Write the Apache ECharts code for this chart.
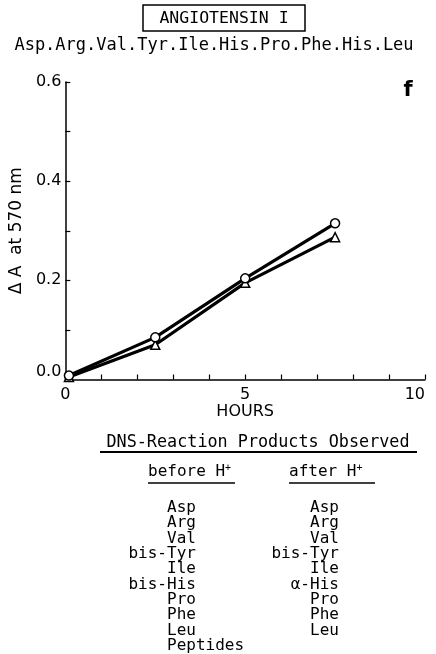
<!DOCTYPE html>
<html>
<head>
<meta charset="utf-8">
<script src="https://cdn.jsdelivr.net/npm/echarts@6/dist/echarts.min.js"></script>
<style>html,body{margin:0;padding:0;background:#fff;}#c{width:436px;height:654px;}</style>
</head>
<body>
<div id="c"></div>
<script>
// ---- data ----
const titleText = 'ANGIOTENSIN I';
const sequenceText = 'Asp.Arg.Val.Tyr.Ile.His.Pro.Phe.His.Leu';
const panelLetter = 'f';
const xName = 'HOURS';
const yName = 'Δ A  at 570 nm';
const hours = [0.1, 2.5, 5, 7.5];
const circleValues = [0.008, 0.085, 0.204, 0.315];
const triangleValues = [0.005, 0.070, 0.195, 0.287];
const xTicks = [0, 5, 10];
const yTicks = [0.0, 0.2, 0.4, 0.6];
const tableTitle = 'DNS-Reaction Products Observed';
const beforeHeader = 'before H';
const afterHeader = 'after H';
const beforeList = ['Asp', 'Arg', 'Val', 'bis-Tyr', 'Ile', 'bis-His', 'Pro', 'Phe', 'Leu', 'Peptides'];
const afterList = ['Asp', 'Arg', 'Val', 'bis-Tyr', 'Ile', 'α-His', 'Pro', 'Phe', 'Leu'];

// ---- layout ----
const mono = '"DejaVu Sans Mono", "Liberation Mono", monospace';
const sans = '"DejaVu Sans", "Liberation Sans", sans-serif';
const listFont = 16;
const charW = listFont * 0.602;
const rowH = 15.3;

function listTexts(list, baseX, topY) {
  return list.map((s, i) => {
    const dash = s.indexOf('-');
    const prefix = dash >= 0 ? dash + 1 : 0;
    return {
      type: 'text',
      x: baseX - prefix * charW,
      y: topY + i * rowH,
      style: { text: s, font: listFont + 'px ' + mono, fill: '#000', align: 'left', verticalAlign: 'middle' }
    };
  });
}

const chart = echarts.init(document.getElementById('c'), null, { renderer: 'canvas' });

const graphics = [
  { type: 'rect', shape: { x: 143, y: 5, width: 162, height: 26 }, style: { fill: 'none', stroke: '#000', lineWidth: 1.5 } },
  { type: 'text', x: 224, y: 19, style: { text: titleText, font: '16.5px ' + mono, fill: '#000', align: 'center', verticalAlign: 'middle' } },
  { type: 'text', x: 214, y: 46, style: { text: sequenceText, font: '17px ' + mono, fill: '#000', align: 'center', verticalAlign: 'middle' } },
  { type: 'text', x: 408, y: 91, style: { text: panelLetter, font: 'bold 21px ' + sans, fill: '#000', align: 'center', verticalAlign: 'middle' } },
  { type: 'text', x: 258, y: 443, style: { text: tableTitle, font: '16.8px ' + mono, fill: '#000', align: 'center', verticalAlign: 'middle' } },
  { type: 'line', shape: { x1: 100, y1: 452, x2: 417, y2: 452 }, style: { stroke: '#000', lineWidth: 1.8 } },
  { type: 'text', x: 148, y: 472, style: { text: beforeHeader + '{s|+}', font: listFont + 'px ' + mono, fill: '#000', align: 'left', verticalAlign: 'middle',
      rich: { s: { fontSize: 10, fontFamily: 'DejaVu Sans Mono', verticalAlign: 'top', padding: [0, 0, 8, 0] } } } },
  { type: 'line', shape: { x1: 148, y1: 483, x2: 235, y2: 483 }, style: { stroke: '#000', lineWidth: 1.5 } },
  { type: 'text', x: 289, y: 472, style: { text: afterHeader + '{s|+}', font: listFont + 'px ' + mono, fill: '#000', align: 'left', verticalAlign: 'middle',
      rich: { s: { fontSize: 10, fontFamily: 'DejaVu Sans Mono', verticalAlign: 'top', padding: [0, 0, 8, 0] } } } },
  { type: 'line', shape: { x1: 289, y1: 483, x2: 375, y2: 483 }, style: { stroke: '#000', lineWidth: 1.5 } }
].concat(listTexts(beforeList, 167, 508), listTexts(afterList, 310, 508));

const option = {
  backgroundColor: '#fff',
  animation: false,
  grid: { left: 65, right: 11, top: 82, bottom: 274.5, containLabel: false },
  xAxis: {
    type: 'value', min: xTicks[0], max: xTicks[xTicks.length - 1], interval: 5,
    name: xName, nameLocation: 'middle', nameGap: 24,
    nameTextStyle: { fontFamily: sans, fontSize: 16, color: '#000' },
    axisLine: { lineStyle: { color: '#000', width: 1.5 } },
    axisTick: { inside: true, length: 5, lineStyle: { color: '#000', width: 1.2 } },
    minorTick: { show: true, splitNumber: 5, length: 5, lineStyle: { color: '#000', width: 1.2 } },
    splitLine: { show: false },
    axisLabel: { color: '#000', fontFamily: sans, fontSize: 16, margin: 7, alignMaxLabel: 'right' }
  },
  yAxis: {
    type: 'value', min: yTicks[0], max: yTicks[yTicks.length - 1], interval: 0.2,
    name: yName, nameLocation: 'middle', nameGap: 40, nameRotate: 90,
    nameTextStyle: { fontFamily: sans, fontSize: 17, color: '#000' },
    axisLine: { lineStyle: { color: '#000', width: 1.5 } },
    axisTick: { inside: true, length: 5, lineStyle: { color: '#000', width: 1.2 } },
    minorTick: { show: true, splitNumber: 2, length: 5, lineStyle: { color: '#000', width: 1.2 } },
    splitLine: { show: false },
    axisLabel: { color: '#000', fontFamily: sans, fontSize: 16, margin: 4,
      formatter: v => v.toFixed(1), verticalAlignMinLabel: 'bottom' }
  },
  series: [
    {
      type: 'line', data: hours.map((h, i) => [h, circleValues[i]]),
      symbol: 'circle', symbolSize: 9,
      lineStyle: { color: '#000', width: 3.2 },
      itemStyle: { color: '#fff', borderColor: '#000', borderWidth: 1.5 },
      z: 3
    },
    {
      type: 'line', data: hours.map((h, i) => [h, triangleValues[i]]),
      symbol: 'triangle', symbolSize: 9,
      lineStyle: { color: '#000', width: 3.2 },
      itemStyle: { color: '#fff', borderColor: '#000', borderWidth: 1.5 },
      z: 2
    }
  ],
  graphic: graphics
};
chart.setOption(option);
</script>
</body>
</html>
